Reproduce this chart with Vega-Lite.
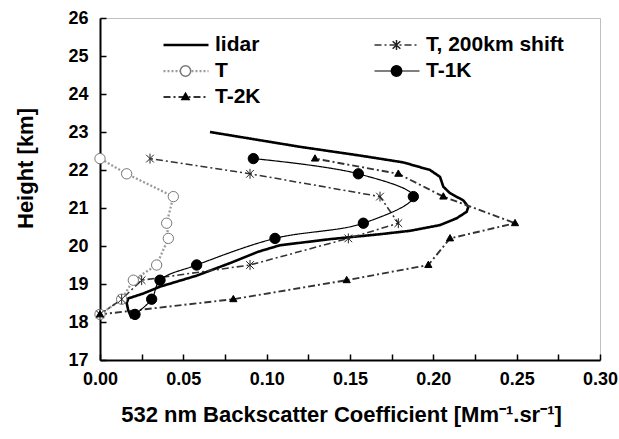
{
  "$schema": "https://vega.github.io/schema/vega-lite/v6.json",
  "width": 500,
  "height": 342,
  "autosize": {"type": "none"},
  "padding": {"left": 100, "top": 18, "right": 19, "bottom": 79},
  "background": "white",
  "config": {
    "view": {"stroke": "#c0c0c0", "strokeWidth": 1},
    "font": "Liberation Sans",
    "axis": {
      "labelFont": "Liberation Sans", "labelFontSize": 18, "labelFontWeight": "bold", "labelColor": "black",
      "titleFont": "Liberation Sans", "titleFontSize": 22, "titleFontWeight": "bold", "titleColor": "black",
      "domainColor": "black", "domainWidth": 2, "tickColor": "black", "tickWidth": 1.5, "tickSize": -6,
      "grid": false, "labelFlush": false, "labelOverlap": false
    },
    "legend": {
      "orient": "none", "legendX": 62, "legendY": 14, "columns": 2, "columnPadding": 112, "rowPadding": 0,
      "clipHeight": 26, "symbolSize": 2025, "labelOffset": 5, "padding": 0, "symbolLimit": 0,
      "labelFont": "Liberation Sans", "labelFontSize": 21, "labelFontWeight": "bold", "labelColor": "black"
    }
  },
  "data": {"values": [
    {"s": "lidar", "i": 0, "b": 0.019, "h": 18.1},
    {"s": "lidar", "i": 1, "b": 0.017, "h": 18.3},
    {"s": "lidar", "i": 2, "b": 0.016, "h": 18.5},
    {"s": "lidar", "i": 3, "b": 0.017, "h": 18.62},
    {"s": "lidar", "i": 4, "b": 0.026, "h": 18.75},
    {"s": "lidar", "i": 5, "b": 0.036, "h": 18.93},
    {"s": "lidar", "i": 6, "b": 0.058, "h": 19.22},
    {"s": "lidar", "i": 7, "b": 0.078, "h": 19.55},
    {"s": "lidar", "i": 8, "b": 0.095, "h": 19.85},
    {"s": "lidar", "i": 9, "b": 0.108, "h": 20.02},
    {"s": "lidar", "i": 10, "b": 0.138, "h": 20.18},
    {"s": "lidar", "i": 11, "b": 0.168, "h": 20.31},
    {"s": "lidar", "i": 12, "b": 0.186, "h": 20.4},
    {"s": "lidar", "i": 13, "b": 0.204, "h": 20.55},
    {"s": "lidar", "i": 14, "b": 0.214, "h": 20.73},
    {"s": "lidar", "i": 15, "b": 0.22, "h": 20.9},
    {"s": "lidar", "i": 16, "b": 0.221, "h": 21.03},
    {"s": "lidar", "i": 17, "b": 0.218, "h": 21.2},
    {"s": "lidar", "i": 18, "b": 0.21, "h": 21.39},
    {"s": "lidar", "i": 19, "b": 0.206, "h": 21.56},
    {"s": "lidar", "i": 20, "b": 0.204, "h": 21.82},
    {"s": "lidar", "i": 21, "b": 0.198, "h": 22.0},
    {"s": "lidar", "i": 22, "b": 0.182, "h": 22.2},
    {"s": "lidar", "i": 23, "b": 0.156, "h": 22.38},
    {"s": "lidar", "i": 24, "b": 0.12, "h": 22.61},
    {"s": "lidar", "i": 25, "b": 0.066, "h": 23.0},
    {"s": "T", "i": 0, "b": 0.0, "h": 18.2},
    {"s": "T", "i": 1, "b": 0.013, "h": 18.6},
    {"s": "T", "i": 2, "b": 0.02, "h": 19.1},
    {"s": "T", "i": 3, "b": 0.034, "h": 19.5},
    {"s": "T", "i": 4, "b": 0.041, "h": 20.2},
    {"s": "T", "i": 5, "b": 0.04, "h": 20.6},
    {"s": "T", "i": 6, "b": 0.044, "h": 21.3},
    {"s": "T", "i": 7, "b": 0.016, "h": 21.9},
    {"s": "T", "i": 8, "b": 0.0, "h": 22.3},
    {"s": "T, 200km shift", "i": 0, "b": 0.0, "h": 18.2},
    {"s": "T, 200km shift", "i": 1, "b": 0.013, "h": 18.6},
    {"s": "T, 200km shift", "i": 2, "b": 0.025, "h": 19.1},
    {"s": "T, 200km shift", "i": 3, "b": 0.09, "h": 19.5},
    {"s": "T, 200km shift", "i": 4, "b": 0.149, "h": 20.2},
    {"s": "T, 200km shift", "i": 5, "b": 0.179, "h": 20.6},
    {"s": "T, 200km shift", "i": 6, "b": 0.168, "h": 21.3},
    {"s": "T, 200km shift", "i": 7, "b": 0.09, "h": 21.9},
    {"s": "T, 200km shift", "i": 8, "b": 0.03, "h": 22.3},
    {"s": "T-1K", "i": 0, "b": 0.021, "h": 18.2},
    {"s": "T-1K", "i": 1, "b": 0.031, "h": 18.6},
    {"s": "T-1K", "i": 2, "b": 0.036, "h": 19.1},
    {"s": "T-1K", "i": 3, "b": 0.058, "h": 19.5},
    {"s": "T-1K", "i": 4, "b": 0.105, "h": 20.2},
    {"s": "T-1K", "i": 5, "b": 0.158, "h": 20.6},
    {"s": "T-1K", "i": 6, "b": 0.188, "h": 21.3},
    {"s": "T-1K", "i": 7, "b": 0.155, "h": 21.9},
    {"s": "T-1K", "i": 8, "b": 0.092, "h": 22.3},
    {"s": "T-2K", "i": 0, "b": 0.0, "h": 18.2},
    {"s": "T-2K", "i": 1, "b": 0.08, "h": 18.6},
    {"s": "T-2K", "i": 2, "b": 0.148, "h": 19.1},
    {"s": "T-2K", "i": 3, "b": 0.197, "h": 19.5},
    {"s": "T-2K", "i": 4, "b": 0.21, "h": 20.2},
    {"s": "T-2K", "i": 5, "b": 0.249, "h": 20.6},
    {"s": "T-2K", "i": 6, "b": 0.206, "h": 21.3},
    {"s": "T-2K", "i": 7, "b": 0.179, "h": 21.9},
    {"s": "T-2K", "i": 8, "b": 0.129, "h": 22.3}
  ]},
  "encoding": {
    "x": {"field": "b", "type": "quantitative",
      "scale": {"domain": [0, 0.3], "nice": false, "zero": false},
      "axis": {"title": "532 nm Backscatter Coefficient [Mm⁻¹.sr⁻¹]",
        "values": [0, 0.025, 0.05, 0.075, 0.1, 0.125, 0.15, 0.175, 0.2, 0.225, 0.25, 0.275, 0.3],
        "labelExpr": "round(datum.value*40) % 2 == 0 ? format(datum.value, '.2f') : ''",
        "labelPadding": 16, "titleX": 241, "titleY": 44, "titleBaseline": "top", "titleAlign": "center", "titleAnchor": null}},
    "y": {"field": "h", "type": "quantitative",
      "scale": {"domain": [17, 26], "nice": false, "zero": false},
      "axis": {"title": "Height [km]", "values": [17, 18, 19, 20, 21, 22, 23, 24, 25, 26],
        "labelPadding": 18, "titleX": -75, "titleY": 150, "titleAngle": -90, "titleBaseline": "middle", "titleAlign": "center"}},
    "order": {"field": "i", "type": "quantitative"}
  },
  "layer": [
    {
      "transform": [{"filter": "datum.s != 'T-1K'"}],
      "mark": {"type": "line", "interpolate": "linear"},
      "encoding": {
        "color": {"field": "s", "type": "nominal",
          "scale": {"domain": ["lidar", "T", "T-2K", "T, 200km shift", "T-1K"], "range": ["#000000", "#9a9a9a", "#333333", "#333333", "#000000"]},
          "legend": {"title": null, "symbolType": "stroke"}},
        "strokeDash": {"field": "s", "type": "nominal",
          "scale": {"domain": ["lidar", "T", "T-2K", "T, 200km shift", "T-1K"], "range": [[1, 0], [2, 2], [7, 3, 2, 3], [7, 3, 2, 3], [1, 0]]},
          "legend": {"title": null, "symbolType": "stroke"}},
        "strokeWidth": {"field": "s", "type": "nominal",
          "scale": {"domain": ["lidar", "T", "T-2K", "T, 200km shift", "T-1K"], "range": [2.6, 1.2, 1.2, 1.2, 1.6]},
          "legend": {"title": null, "symbolType": "stroke"}}
      }
    },
    {
      "transform": [{"filter": "datum.s == 'T-1K'"}],
      "mark": {"type": "line", "interpolate": "catmull-rom"},
      "encoding": {
        "color": {"field": "s", "type": "nominal",
          "scale": {"domain": ["lidar", "T", "T-2K", "T, 200km shift", "T-1K"], "range": ["#000000", "#9a9a9a", "#333333", "#333333", "#000000"]},
          "legend": {"title": null, "symbolType": "stroke"}},
        "strokeDash": {"field": "s", "type": "nominal",
          "scale": {"domain": ["lidar", "T", "T-2K", "T, 200km shift", "T-1K"], "range": [[1, 0], [2, 2], [7, 3, 2, 3], [7, 3, 2, 3], [1, 0]]},
          "legend": {"title": null, "symbolType": "stroke"}},
        "strokeWidth": {"field": "s", "type": "nominal",
          "scale": {"domain": ["lidar", "T", "T-2K", "T, 200km shift", "T-1K"], "range": [2.6, 1.2, 1.2, 1.2, 1.6]},
          "legend": {"title": null, "symbolType": "stroke"}}
      }
    },
    {
      "transform": [{"filter": "datum.s != 'lidar'"}],
      "mark": {"type": "point", "size": 2025, "strokeWidth": 1, "opacity": 1, "fillOpacity": 1, "strokeOpacity": 1},
      "encoding": {
        "shape": {"field": "s", "type": "nominal",
          "scale": {"domain": ["lidar", "T", "T-2K", "T, 200km shift", "T-1K"],
            "range": ["M0,0L0,0",
              "M0.23,0A0.23,0.23,0,1,1,-0.23,0A0.23,0.23,0,1,1,0.23,0Z",
              "M0,-0.17L0.16,0.11L-0.16,0.11Z",
              "M-0.17,-0.17L0.17,0.17M-0.17,0.17L0.17,-0.17M0,-0.22L0,0.22",
              "M0.23,0A0.23,0.23,0,1,1,-0.23,0A0.23,0.23,0,1,1,0.23,0Z"]},
          "legend": {"title": null, "labelExpr": "''", "columnPadding": 159}},
        "fill": {"field": "s", "type": "nominal",
          "scale": {"domain": ["lidar", "T", "T-2K", "T, 200km shift", "T-1K"], "range": ["transparent", "white", "black", "transparent", "black"]},
          "legend": {"title": null, "labelExpr": "''", "columnPadding": 159}},
        "stroke": {"field": "s", "type": "nominal",
          "scale": {"domain": ["lidar", "T", "T-2K", "T, 200km shift", "T-1K"], "range": ["transparent", "#777777", "black", "#222222", "black"]},
          "legend": {"title": null, "labelExpr": "''", "columnPadding": 159}}
      }
    }
  ],
  "resolve": {
    "scale": {"shape": "independent", "fill": "independent", "stroke": "independent"},
    "legend": {"shape": "independent", "fill": "independent", "stroke": "independent"}
  }
}
